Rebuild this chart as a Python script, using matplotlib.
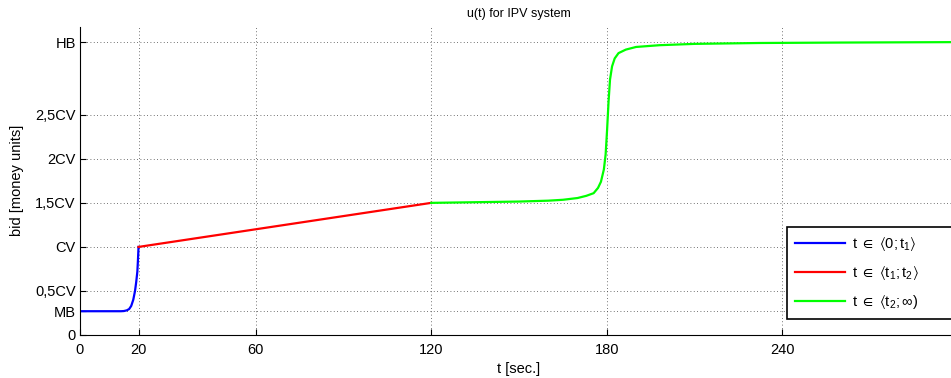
import matplotlib
matplotlib.use("Agg")
import matplotlib.pyplot as plt

plt.rcParams['font.family'] = ['Liberation Sans', 'DejaVu Sans']
plt.rcParams['mathtext.fontset'] = 'custom'
plt.rcParams['mathtext.rm'] = 'Liberation Sans'
plt.rcParams['mathtext.it'] = 'Liberation Sans'

# ---- data; y in units of CV ----
blue_t = [0, 14, 15, 16, 16.8, 17.5, 18.2, 18.8, 19.2, 19.6, 19.8, 20]
blue_u = [0.27, 0.27, 0.272, 0.28, 0.295, 0.33, 0.40, 0.50, 0.60, 0.72, 0.85, 1.0]

red_t = [20, 120]
red_u = [1.0, 1.5]

green_t = [120, 130, 140, 150, 160, 165, 170, 173, 175.5, 177, 178, 179, 179.6,
           180.1, 180.6, 181.1, 181.8, 182.7, 184, 186.5, 190, 198, 210, 232, 260, 300]
green_u = [1.5, 1.505, 1.51, 1.515, 1.525, 1.535, 1.555, 1.58, 1.61, 1.67, 1.74, 1.88, 2.05,
           2.33, 2.65, 2.9, 3.05, 3.14, 3.2, 3.24, 3.27, 3.29, 3.305, 3.315, 3.32, 3.325]

x_ticks = [0, 20, 60, 120, 180, 240]
x_ticklabels = ['0', '20', '60', '120', '180', '240']
MB = 0.27
HB = 3.326
y_ticks = [0, MB, 0.5, 1.0, 1.5, 2.0, 2.5, HB]
y_ticklabels = ['0', 'MB', '0,5CV', 'CV', '1,5CV', '2CV', '2,5CV', 'HB']

legend_labels = [r'$\mathregular{t\ \in\ \langle 0;t_1\rangle}$',
                 r'$\mathregular{t\ \in\ \langle t_1;t_2\rangle}$',
                 r'$\mathregular{t\ \in\ \langle t_2;\infty)}$']

W, H = 951, 378
fig = plt.figure(figsize=(W / 100, H / 100), dpi=100)
left, right_px, top_px, bottom_px = 80, 958, 26.7, 335
ax = fig.add_axes([left / W, 1 - bottom_px / H, (right_px - left) / W, (bottom_px - top_px) / H])

ax.plot(blue_t, blue_u, color=(0, 0, 1), lw=1.6, label=legend_labels[0])
ax.plot(red_t, red_u, color=(1, 0, 0), lw=1.6, label=legend_labels[1])
ax.plot(green_t, green_u, color=(0, 1, 0), lw=1.6, label=legend_labels[2])

ax.set_xlim(0, 300)
ax.set_ylim(0, 3.5)
ax.set_xticks(x_ticks)
ax.set_xticklabels(x_ticklabels)
ax.set_yticks(y_ticks)
ax.set_yticklabels(y_ticklabels)
ax.tick_params(direction='in', length=4, width=0.8, labelsize=10.5)
ax.tick_params(axis='x', pad=6)
ax.tick_params(axis='y', pad=3)

ax.grid(True, color='#444444', linestyle=(0, (1, 3)), lw=0.6)
for s in ['top', 'right']:
    ax.spines[s].set_visible(False)
for s in ['left', 'bottom']:
    ax.spines[s].set_linewidth(0.8)

ax.set_title('u(t) for IPV system', fontsize=9, pad=7)
ax.set_xlabel('t [sec.]', fontsize=10.5, labelpad=3)
ax.set_ylabel('bid [money units]', fontsize=10.5, labelpad=8)

leg = ax.legend(loc='upper left', bbox_to_anchor=(787 / W, 1 - 227 / H, 220 / W, 0.0),
                bbox_transform=fig.transFigure, mode='expand', fontsize=10.5, frameon=True,
                fancybox=False, edgecolor='black', framealpha=1,
                handlelength=3.4, handletextpad=0.5, labelspacing=0.75,
                borderpad=0.55, borderaxespad=0)
leg.get_frame().set_linewidth(1.2)

fig.savefig('out.png', dpi=100)
